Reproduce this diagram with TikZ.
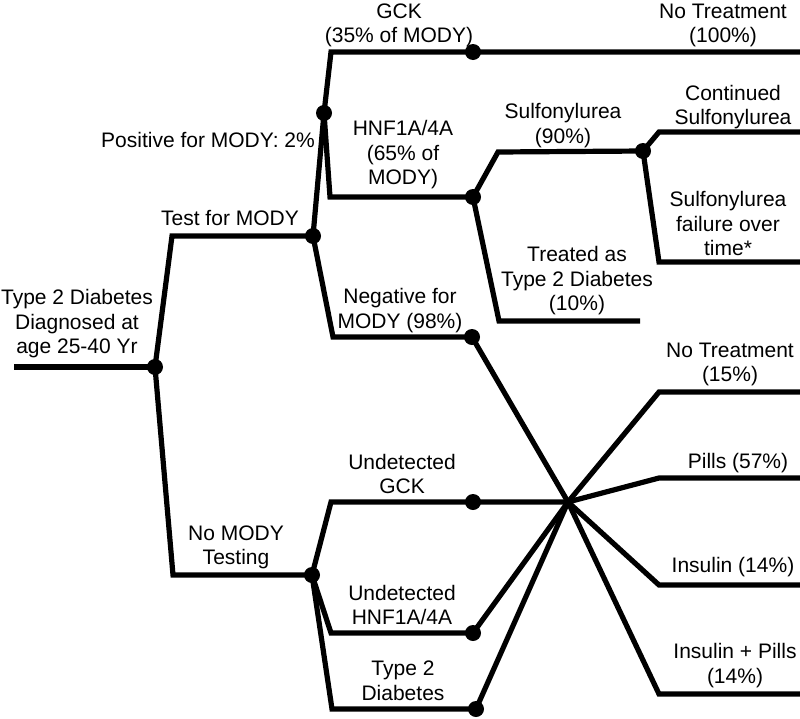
\documentclass[tikz,border=0pt]{standalone}
\usepackage{fontspec}
\setmainfont{Liberation Sans}
\begin{document}
\begin{tikzpicture}[x=1pt,y=-1pt,
  edge/.style={line width=5.2pt},
  dot/.style={circle,fill=black,inner sep=0pt,minimum size=16pt},
  lbl/.style={align=center,font=\fontsize{21}{24.5}\selectfont,inner sep=0pt}]
\useasboundingbox (0,0) rectangle (800,718);
% coordinates
\coordinate (start) at (14,367);
\coordinate (c1) at (172,236);
\coordinate (c2) at (173,575);
\coordinate (c3) at (331,52);
\coordinate (e1) at (800,52);
\coordinate (c4) at (330,197);
\coordinate (c5) at (333,337);
\coordinate (c6) at (498,152);
\coordinate (c7) at (659,132);
\coordinate (e2) at (800,132);
\coordinate (c8) at (659,262);
\coordinate (e3) at (800,262);
\coordinate (c9) at (499,321);
\coordinate (e4) at (640,321);
\coordinate (x) at (568,502);
\coordinate (c10) at (331,502);
\coordinate (c11) at (331,633);
\coordinate (c12) at (332,709);
\coordinate (c13) at (659,392);
\coordinate (e5) at (800,392);
\coordinate (c14) at (659,478);
\coordinate (e6) at (800,478);
\coordinate (c15) at (659,585);
\coordinate (e7) at (800,585);
\coordinate (c16) at (659,694);
\coordinate (e8) at (800,694);
% dots
\node[dot] (root) at (155,367) {};
\node[dot] (test) at (313,236) {};
\node[dot] (nm) at (312,575) {};
\node[dot] (mody) at (324,113) {};
\node[dot] (gck) at (473,52) {};
\node[dot] (hnf) at (473,197) {};
\node[dot] (neg) at (472,337) {};
\node[dot] (su) at (643,151) {};
\node[dot] (ug) at (473,502) {};
\node[dot] (uh) at (473,633) {};
\node[dot] (t2) at (476,709) {};
% edges
\draw[edge] (start) -- (root.center);
\draw[edge] (root.center) -- (c1) -- (test.center);
\draw[edge] (root.center) -- (c2) -- (nm.center);
\draw[edge] (test.center) -- (mody.center);
\draw[edge] (mody.center) -- (c3) -- (gck.center) -- (e1);
\draw[edge] (mody.center) -- (c4) -- (hnf.center);
\draw[edge] (test.center) -- (c5) -- (neg.center);
\draw[edge] (hnf.center) -- (c6) -- (su.center);
\draw[edge] (su.center) -- (c7) -- (e2);
\draw[edge] (su.center) -- (c8) -- (e3);
\draw[edge] (hnf.center) -- (c9) -- (e4);
\draw[edge] (neg.center) -- (x);
\draw[edge] (nm.center) -- (c10) -- (ug.center) -- (x);
\draw[edge] (nm.center) -- (c11) -- (uh.center) -- (x);
\draw[edge] (nm.center) -- (c12) -- (t2.center) -- (x);
\draw[edge] (x) -- (c13) -- (e5);
\draw[edge] (x) -- (c14) -- (e6);
\draw[edge] (x) -- (c15) -- (e7);
\draw[edge] (x) -- (c16) -- (e8);
% labels
\node[lbl] (lroot) at (77,324) {Type 2 Diabetes\\Diagnosed at\\age 25-40 Yr};
\node[lbl] (ltest) at (230,217.5) {Test for MODY};
\node[lbl] (lpos) at (208,140) {Positive for MODY: 2\%};
\node[lbl] (lgck) at (399,25.5) {GCK\\(35\% of MODY)};
\node[lbl] (lnt1) at (723,25.5) {No Treatment\\(100\%)};
\node[lbl] (lhnf) at (403,155) {HNF1A/4A\\(65\% of\\MODY)};
\node[lbl] (lsu) at (563,125.5) {Sulfonylurea\\(90\%)};
\node[lbl] (lcont) at (733,107) {Continued\\Sulfonylurea};
\node[lbl] (lfail) at (728,223.5) {Sulfonylurea\\failure over\\time*};
\node[lbl] (ltreat) at (577,281) {Treated as\\Type 2 Diabetes\\(10\%)};
\node[lbl] (lneg) at (400,310.5) {Negative for\\MODY (98\%)};
\node[lbl] (lnt2) at (730,364.5) {No Treatment\\(15\%)};
\node[lbl] (lpills) at (738,463) {Pills (57\%)};
\node[lbl] (lins) at (733,567) {Insulin (14\%)};
\node[lbl] (linsp) at (735,665.5) {Insulin + Pills\\(14\%)};
\node[lbl] (lug) at (402,474) {Undetected\\GCK};
\node[lbl] (lnm) at (236,547.5) {No MODY\\Testing};
\node[lbl] (luh) at (402,605) {Undetected\\HNF1A/4A};
\node[lbl] (lt2) at (403,681) {Type 2\\Diabetes};
\end{tikzpicture}
\end{document}
